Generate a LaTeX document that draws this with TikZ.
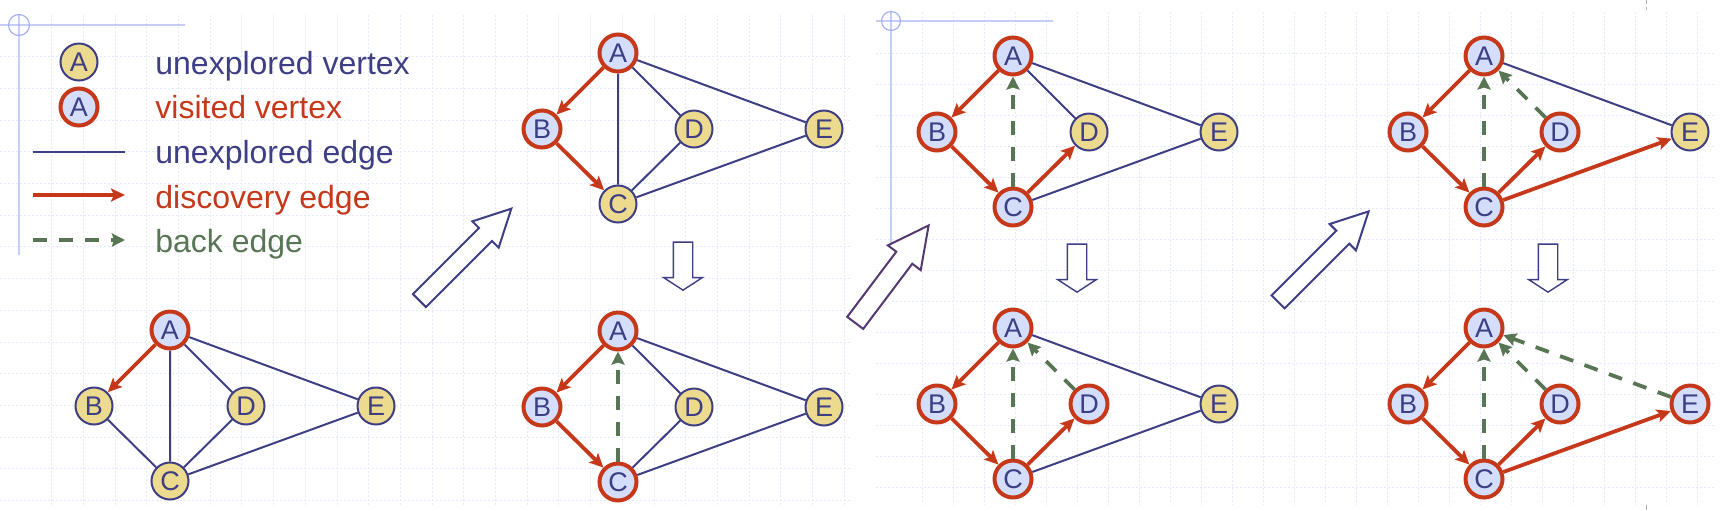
\documentclass[tikz,border=0pt]{standalone}
\usepackage{fontspec}
\setmainfont{Liberation Sans}
\usetikzlibrary{arrows.meta,shapes.arrows}
\definecolor{navy}{RGB}{62,62,133}
\definecolor{rust}{RGB}{198,56,26}
\definecolor{moss}{RGB}{88,118,84}
\definecolor{sand}{RGB}{236,218,142}
\definecolor{paleblue}{RGB}{212,222,250}
\definecolor{gridblue}{RGB}{228,233,252}
\definecolor{frameblue}{RGB}{166,178,245}
\definecolor{plum}{RGB}{84,56,112}
\newcommand{\gvertices}[6]{%
  \node[#2] (#1a) at (0,0) {A};
  \node[#3] (#1b) at (-76,76) {B};
  \node[#4] (#1c) at (0,151) {C};
  \node[#5] (#1d) at (76,76) {D};
  \node[#6] (#1e) at (206,76) {E};
}
\tikzset{
  vert/.style={circle, minimum size=18.5pt, inner sep=0pt, text=navy,
    font=\fontsize{13.5pt}{15pt}\selectfont},
  unexpl/.style={vert, draw=navy, fill=sand, line width=1pt},
  visited/.style={vert, draw=rust, fill=paleblue, line width=2pt},
  plainedge/.style={draw=navy, line width=1pt},
  disc/.style={draw=rust, line width=1.9pt, -{Stealth[length=7pt,width=6.5pt,inset=1.5pt]}},
  back/.style={draw=moss, line width=1.9pt, dash pattern=on 7pt off 6pt,
    -{Stealth[length=6.5pt,width=6.5pt,inset=1pt]}},
  legtext/.style={anchor=base west, inner sep=0pt, font=\fontsize{16pt}{18pt}\selectfont},
  bigarrow/.style={single arrow, draw, fill=white, line width=1pt, inner xsep=0pt,
    single arrow tip angle=54},
  downarrow/.style={single arrow, draw=navy, fill=white, line width=0.7pt, inner xsep=0pt,
    inner ysep=4.5pt, single arrow head extend=4.85pt, single arrow tip angle=114,
    minimum height=24pt, rotate=-90},
  gridline/.style={draw=gridblue, line width=0.5pt, dash pattern=on 1pt off 1pt},
  frameline/.style={draw=frameblue, line width=0.6pt},
}
\begin{document}
\begin{tikzpicture}[x=0.5pt, y=-0.5pt]
    \useasboundingbox (0,0) rectangle (1723,510);

    % slide backgrounds
    \foreach \gx in {51.7,83.4,...,845} \draw[gridline] (\gx,15) -- (\gx,505);
    \foreach \gy in {56.7,88.4,...,505} \draw[gridline] (0,\gy) -- (850,\gy);
    \foreach \gx in {922,953,...,1712} \draw[gridline] (\gx,12) -- (\gx,505);
    \foreach \gy in {53,84,...,500} \draw[gridline] (876,\gy) -- (1715,\gy);
    \draw[frameline] (0,25) -- (185,25) (19,15) -- (19,255) (19,25) circle (10.5);
    \draw[frameline] (876,21) -- (1053,21) (891,12) -- (891,247) (891,21) circle (9.5);
    \draw[gray!60, line width=0.5pt] (1646,0) -- (1646,4) (1646,7) -- (1646,10)
        (1646,505) -- (1646,510);

    % legend
    \node[unexpl] (legu) at (79,62) {A};
    \node[visited] (legv) at (79,107) {A};
    \coordinate (ue1) at (33,152); \coordinate (ue2) at (125,152);
    \coordinate (de1) at (33,195); \coordinate (de2) at (125,195);
    \coordinate (be1) at (33,240); \coordinate (be2) at (125,240);
    \draw[plainedge] (ue1) -- (ue2);
    \draw[disc] (de1) -- (de2);
    \draw[back] (be1) -- (be2);
    \node[legtext, text=navy] (lt1) at (155,74) {unexplored vertex};
    \node[legtext, text=rust] (lt2) at (155,118) {visited vertex};
    \node[legtext, text=navy] (lt3) at (155,163) {unexplored edge};
    \node[legtext, text=rust] (lt4) at (155,208) {discovery edge};
    \node[legtext, text=moss] (lt5) at (155,252) {back edge};

    % step 1
    \begin{scope}[shift={(170,330)}]
    \gvertices{g1}{visited}{unexpl}{unexpl}{unexpl}{unexpl}
    \draw[disc] (g1a) -- (g1b);
    \draw[plainedge] (g1a) -- (g1c) (g1a) -- (g1d) (g1a) -- (g1e)
        (g1b) -- (g1c) (g1d) -- (g1c) (g1c) -- (g1e);
    \end{scope}

    % step 2
    \begin{scope}[shift={(618,53)}]
    \gvertices{g2}{visited}{visited}{unexpl}{unexpl}{unexpl}
    \draw[disc] (g2a) -- (g2b);
    \draw[disc] (g2b) -- (g2c);
    \draw[plainedge] (g2a) -- (g2c) (g2a) -- (g2d) (g2a) -- (g2e)
        (g2d) -- (g2c) (g2c) -- (g2e);
    \end{scope}

    % step 3
    \begin{scope}[shift={(618,331)}]
    \gvertices{g3}{visited}{visited}{visited}{unexpl}{unexpl}
    \draw[disc] (g3a) -- (g3b);
    \draw[disc] (g3b) -- (g3c);
    \draw[back] (g3c) -- (g3a);
    \draw[plainedge] (g3a) -- (g3d) (g3a) -- (g3e) (g3d) -- (g3c) (g3c) -- (g3e);
    \end{scope}

    % step 4
    \begin{scope}[shift={(1013,56)}]
    \gvertices{g4}{visited}{visited}{visited}{unexpl}{unexpl}
    \draw[disc] (g4a) -- (g4b);
    \draw[disc] (g4b) -- (g4c);
    \draw[disc] (g4c) -- (g4d);
    \draw[back] (g4c) -- (g4a);
    \draw[plainedge] (g4a) -- (g4d) (g4a) -- (g4e) (g4c) -- (g4e);
    \end{scope}

    % step 5
    \begin{scope}[shift={(1013,328)}]
    \gvertices{g5}{visited}{visited}{visited}{visited}{unexpl}
    \draw[disc] (g5a) -- (g5b);
    \draw[disc] (g5b) -- (g5c);
    \draw[disc] (g5c) -- (g5d);
    \draw[back] (g5c) -- (g5a);
    \draw[back] (g5d) -- (g5a);
    \draw[plainedge] (g5a) -- (g5e) (g5c) -- (g5e);
    \end{scope}

    % step 6
    \begin{scope}[shift={(1484,56)}]
    \gvertices{g6}{visited}{visited}{visited}{visited}{unexpl}
    \draw[disc] (g6a) -- (g6b);
    \draw[disc] (g6b) -- (g6c);
    \draw[disc] (g6c) -- (g6d);
    \draw[disc] (g6c) -- (g6e);
    \draw[back] (g6c) -- (g6a);
    \draw[back] (g6d) -- (g6a);
    \draw[plainedge] (g6a) -- (g6e);
    \end{scope}

    % step 7
    \begin{scope}[shift={(1484,328)}]
    \gvertices{g7}{visited}{visited}{visited}{visited}{visited}
    \draw[disc] (g7a) -- (g7b);
    \draw[disc] (g7b) -- (g7c);
    \draw[disc] (g7c) -- (g7d);
    \draw[disc] (g7c) -- (g7e);
    \draw[back] (g7c) -- (g7a);
    \draw[back] (g7d) -- (g7a);
    \draw[back] (g7e) -- (g7a);
    \end{scope}

    % transitions
    \node[bigarrow, draw=navy, inner ysep=4.1pt, single arrow head extend=4.7pt,
        minimum height=65pt, rotate=45] (go1) at (459,261) {};
    \node[bigarrow, draw=plum, inner ysep=4.5pt, single arrow head extend=5.3pt,
        minimum height=61pt, rotate=53] (go2) at (886,282) {};
    \node[bigarrow, draw=navy, inner ysep=4.1pt, single arrow head extend=4.7pt,
        minimum height=64pt, rotate=45] (go3) at (1317,263) {};
    \node[downarrow] (dn1) at (683,263) {};
    \node[downarrow] (dn2) at (1077,265) {};
    \node[downarrow] (dn3) at (1548,265) {};

\end{tikzpicture}
\end{document}
